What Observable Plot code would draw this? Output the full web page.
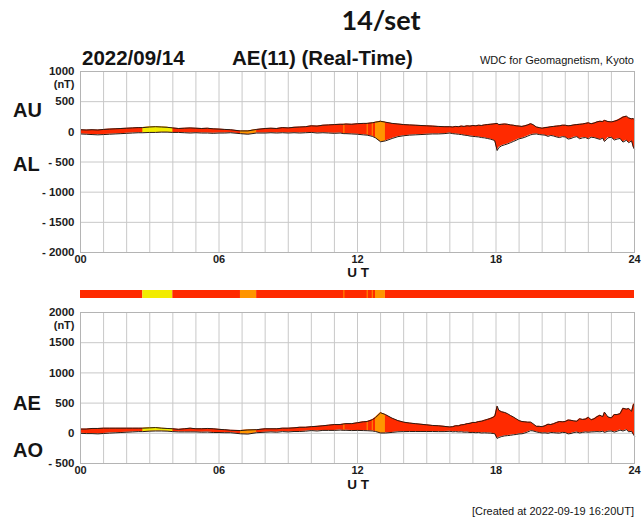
<!DOCTYPE html>
<html>
<head>
<meta charset="utf-8">
<script src="https://cdn.jsdelivr.net/npm/d3@7"></script>
<script src="https://cdn.jsdelivr.net/npm/@observablehq/plot@0.6"></script>
<style>
  html, body { margin: 0; padding: 0; background: #fff; }
  #page { position: relative; width: 643px; height: 520px; overflow: hidden; }
  #page > svg, #page > figure { position: absolute; left: 0; margin: 0; }
</style>
</head>
<body>
<div id="page"></div>
<script>
// AE(11) real-time auroral electrojet indices, 2022-09-14 (nT), sampled by hour of day (UT)
const hours = [0,0.25,0.5,0.75,1,1.25,1.5,1.75,2,2.25,2.5,2.7,3,3.25,3.5,3.75,4,4.25,4.5,4.75,5,5.25,5.5,5.75,6,6.25,6.5,6.93,7.25,7.63,8,8.25,8.5,8.75,9,9.25,9.5,9.75,10,10.25,10.5,10.75,11,11.25,11.41,11.5,11.75,12,12.25,12.42,12.64,12.78,13,13.21,13.5,13.75,14,14.25,14.5,14.75,15,15.25,15.5,15.75,
  16,16.125,16.25,16.375,16.5,16.625,16.75,16.875,17,17.125,17.25,17.375,17.5,17.625,17.75,17.875,17.95,18.05,18.125,18.25,18.375,18.5,18.625,18.75,18.875,19,19.125,19.25,19.375,19.5,19.6,19.75,19.875,20,20.125,20.25,20.375,20.5,20.625,20.75,20.875,21,21.125,21.25,21.375,21.5,21.625,21.75,21.875,22,22.125,22.25,22.375,22.5,22.625,22.7,22.85,23,23.125,23.25,23.375,23.5,23.65,23.75,23.875,23.95,24];

const AU = [35,30,35,30,40,45,50,55,60,65,70,70,80,85,80,75,65,55,60,65,60,55,60,50,45,40,35,15,15,40,55,60,55,70,65,75,80,85,100,95,110,115,120,125,125,130,125,135,140,140,150,160,175,160,140,130,120,115,110,105,100,95,90,85,
  85,80,90,85,95,90,100,95,105,100,110,105,115,120,125,130,135,140,120,125,130,125,115,110,100,95,90,100,115,135,120,80,70,60,70,75,85,90,95,100,110,110,100,105,115,120,125,130,140,150,135,145,165,175,170,190,170,165,175,190,215,245,260,230,215,220,200];

const AL = [-35,-40,-45,-50,-45,-40,-35,-30,-25,-20,-15,-15,-10,-10,-5,-5,-10,-10,-15,-20,-15,-20,-20,-25,-20,-20,-15,-30,-40,-20,-20,-15,-20,-15,-20,-15,-20,-15,-10,-20,-15,-20,-25,-20,-30,-30,-35,-40,-50,-55,-75,-100,-165,-150,-110,-80,-65,-55,-50,-45,-40,-35,-35,-30,
  -20,-30,-35,-40,-45,-55,-60,-70,-75,-80,-85,-95,-100,-110,-120,-135,-150,-310,-260,-230,-215,-200,-180,-160,-140,-115,-105,-90,-70,-50,-40,-35,-45,-50,-55,-75,-60,-70,-85,-95,-80,-85,-120,-110,-90,-80,-115,-100,-95,-115,-90,-95,-110,-125,-105,-160,-100,-90,-135,-120,-110,-170,-140,-180,-150,-255,-290];

const AE = [70,70,80,80,85,85,85,85,85,85,85,85,90,95,85,80,75,65,75,85,75,75,80,75,65,60,50,45,55,60,75,75,75,85,85,90,100,100,110,115,125,135,145,145,155,160,160,175,190,195,225,260,340,310,250,210,185,170,160,150,140,130,125,115,
  105,110,125,125,140,145,160,165,180,180,195,200,215,230,245,265,285,450,380,355,345,325,295,270,240,210,195,190,185,185,160,115,115,110,125,150,145,160,180,195,190,195,220,215,205,200,240,230,235,265,225,240,275,300,275,350,270,255,310,310,325,415,400,410,365,475,490];

const AO = [0,-5,-5,-10,-3,3,8,13,18,23,28,28,35,38,38,35,28,23,23,23,23,18,20,13,13,10,10,-8,-13,10,18,23,18,28,23,30,30,35,45,38,48,48,48,53,48,50,45,48,45,43,38,30,5,5,15,25,28,30,30,30,30,30,28,28,
  33,25,28,23,25,18,20,13,15,10,13,5,8,5,3,-3,-8,-85,-70,-53,-43,-38,-33,-25,-20,-10,-8,5,23,43,40,23,13,5,8,0,13,10,5,3,15,13,-10,-3,13,20,5,15,23,18,23,25,28,25,33,15,35,38,20,35,53,38,60,25,33,-18,-45];

// Station-coverage colour bands along the day
const segStart = [0, 2.7, 4.0, 6.93, 7.63, 12.78, 13.21];
const segEnd   = [2.7, 4.0, 6.93, 7.63, 12.78, 13.21, 24];
const segColor = ["#ff2a00", "#f2ec00", "#ff2a00", "#ff9500", "#ff2a00", "#ff9500", "#ff2a00"];
const thinHours = [11.41, 12.42, 12.64];
const thinColor = "#ff9500";

// Axis ticks
const gridHours = [0,1,2,3,4,5,6,7,8,9,10,11,12,13,14,15,16,17,18,19,20,21,22,23,24];
const labelHours = [0, 6, 12, 18, 24];
const yTicksTop = [1000, 500, 0, -500, -1000, -1500, -2000];
const yTicksBottom = [2000, 1500, 1000, 500, 0, -500];

const RED = segColor[0];
const rows = hours.map((t, i) => ({t, au: AU[i], al: AL[i], ae: AE[i], ao: AO[i]}));
const segments = segStart.map((t0, i) => ({t0, t1: segEnd[i], color: segColor[i]}));
const accentRows = segments
  .map((s, k) => ({...s, k}))
  .filter(s => s.color !== RED)
  .flatMap(s => rows.filter(r => r.t >= s.t0 && r.t <= s.t1).map(r => ({...r, seg: s.k, color: s.color})));
const thinRows = rows.filter(r => thinHours.includes(r.t));

const FONT = "'Liberation Sans', Arial, Helvetica, sans-serif";
const fmtNT = d => d < 0 ? "- " + Math.abs(d) : String(d);
const fmtHour = d => String(d).padStart(2, "0");

function panel({lo, hi, yDomain, yTicks, height, marginTop, marginBottom}) {
  return Plot.plot({
    width: 643, height, marginLeft: 80, marginRight: 9, marginTop, marginBottom,
    style: {background: "transparent", fontFamily: FONT, color: "#1c1c1c", overflow: "visible"},
    x: {domain: [0, 24]},
    y: {domain: yDomain},
    color: {type: "identity"},
    marks: [
      Plot.gridX(gridHours, {stroke: "#c8c8c8", strokeOpacity: 1}),
      Plot.gridY(yTicks, {stroke: "#c8c8c8", strokeOpacity: 1}),
      Plot.areaY(rows, {x: "t", y1: lo, y2: hi, fill: RED}),
      Plot.areaY(accentRows, {x: "t", y1: lo, y2: hi, z: "seg", fill: "color"}),
      Plot.ruleX(thinRows, {x: "t", y1: lo, y2: hi, stroke: thinColor, strokeWidth: 1}),
      Plot.lineY(rows, {x: "t", y: hi, stroke: "#2a1a12", strokeWidth: 1}),
      Plot.lineY(rows, {x: "t", y: lo, stroke: "#2a1a12", strokeWidth: 1}),
      Plot.frame({stroke: "#b4b4b4"}),
      Plot.axisX(labelHours, {tickSize: 0, tickPadding: 3, tickFormat: fmtHour, fontSize: 11, fontWeight: "bold", label: null}),
      Plot.axisY(yTicks, {tickSize: 0, tickPadding: 6, tickFormat: fmtNT, fontSize: 11.5, fontWeight: "bold", label: null}),
      Plot.text([yDomain[1]], {y: d => d, text: () => "(nT)", frameAnchor: "left", dx: -6, dy: 13, textAnchor: "end", fontSize: 11, fontWeight: "bold"})
    ]
  });
}

const page = document.getElementById("page");

const topPanel = panel({lo: "al", hi: "au", yDomain: [-2000, 1000], yTicks: yTicksTop, height: 212, marginTop: 11, marginBottom: 20});
topPanel.style.top = "60px";
page.appendChild(topPanel);

const strip = Plot.plot({
  width: 643, height: 10, marginLeft: 80, marginRight: 9, marginTop: 1, marginBottom: 1,
  style: {background: "transparent"},
  x: {domain: [0, 24], axis: null},
  y: {domain: [0, 1], axis: null},
  color: {type: "identity"},
  marks: [
    Plot.rect(segments, {x1: "t0", x2: "t1", y1: () => 0, y2: () => 1, fill: "color"}),
    Plot.ruleX(thinHours, {stroke: thinColor, strokeWidth: 1})
  ]
});
strip.style.top = "289px";
page.appendChild(strip);

const bottomPanel = panel({lo: "ao", hi: "ae", yDomain: [-500, 2000], yTicks: yTicksBottom, height: 190, marginTop: 12, marginBottom: 27});
bottomPanel.style.top = "300px";
page.appendChild(bottomPanel);

// Titles and side labels
const overlay = d3.select(page).append("svg")
  .attr("width", 643).attr("height", 520)
  .style("top", "0px").style("pointer-events", "none")
  .attr("font-family", FONT).attr("fill", "#141414");

const labels = [
  {text: "14/set", x: 381, y: 30, size: 27, weight: 700, anchor: "middle", family: "Lato, 'Open Sans', sans-serif"},
  {text: "2022/09/14", x: 82, y: 65, size: 20.5, weight: 700, anchor: "start"},
  {text: "AE(11) (Real-Time)", x: 232, y: 65, size: 20.5, weight: 700, anchor: "start"},
  {text: "WDC for Geomagnetism, Kyoto", x: 634, y: 64, size: 11, weight: 400, anchor: "end"},
  {text: "AU", x: 13, y: 117, size: 20, weight: 700, anchor: "start"},
  {text: "AL", x: 13, y: 171, size: 20, weight: 700, anchor: "start"},
  {text: "U T", x: 358, y: 277, size: 13.5, weight: 700, anchor: "middle"},
  {text: "AE", x: 13, y: 410, size: 20, weight: 700, anchor: "start"},
  {text: "AO", x: 13, y: 457, size: 20, weight: 700, anchor: "start"},
  {text: "U T", x: 358, y: 489, size: 13.5, weight: 700, anchor: "middle"},
  {text: "[Created at 2022-09-19 16:20UT]", x: 634, y: 515, size: 11, weight: 400, anchor: "end"}
];

overlay.selectAll("text").data(labels).join("text")
  .attr("x", d => d.x).attr("y", d => d.y)
  .attr("font-size", d => d.size).attr("font-weight", d => d.weight)
  .attr("text-anchor", d => d.anchor)
  .attr("font-family", d => d.family || null)
  .text(d => d.text);
</script>
</body>
</html>
